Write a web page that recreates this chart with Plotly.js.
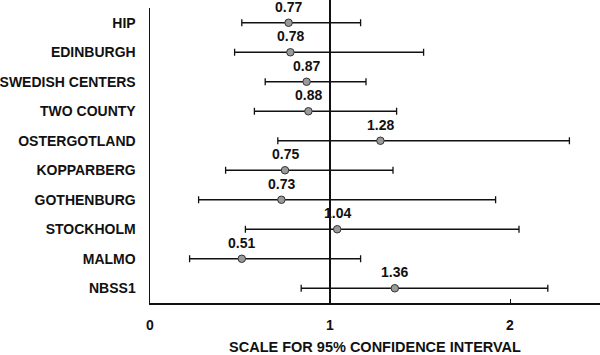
<!DOCTYPE html>
<html>
<head>
<meta charset="utf-8">
<script src="https://cdn.plot.ly/plotly-3.0.1.min.js"></script>
<style>html,body{margin:0;padding:0;background:#fff;}#chart{width:600px;height:355px;}</style>
</head>
<body>
<div id="chart"></div>
<script>
var studies = ["HIP","EDINBURGH","SWEDISH CENTERS","TWO COUNTY","OSTERGOTLAND","KOPPARBERG","GOTHENBURG","STOCKHOLM","MALMO","NBSS1"];
var estimates = [0.77, 0.78, 0.87, 0.88, 1.28, 0.75, 0.73, 1.04, 0.51, 1.36];
var lowerCI = [0.51, 0.47, 0.64, 0.58, 0.71, 0.42, 0.27, 0.53, 0.22, 0.84];
var upperCI = [1.17, 1.52, 1.20, 1.37, 2.33, 1.35, 1.92, 2.05, 1.17, 2.21];
var xTicks = [0, 1, 2];
var xTickLabels = ["0", "1", "2"];

var fontFam = "Liberation Sans, Arial, sans-serif";

var trace = {
  type: "scatter",
  mode: "markers",
  x: estimates,
  y: studies,
  marker: {size: 7.5, color: "#9a9a9a", line: {color: "#333", width: 1}},
  error_x: {
    type: "data",
    symmetric: false,
    array: upperCI.map(function(u, i){ return u - estimates[i]; }),
    arrayminus: lowerCI.map(function(l, i){ return estimates[i] - l; }),
    color: "#111",
    thickness: 1.3,
    width: 3.5
  },
  hoverinfo: "none",
  showlegend: false
};

var annotations = studies.map(function(s, i){
  return {
    x: estimates[i], y: s, xref: "x", yref: "y",
    text: estimates[i].toFixed(2),
    showarrow: false, yshift: 16,
    font: {family: fontFam, size: 14, color: "#111", weight: "bold"}
  };
});

var layout = {
  width: 600, height: 355,
  margin: {l: 150, r: 0, t: 8, b: 52},
  paper_bgcolor: "#fff", plot_bgcolor: "#fff",
  font: {family: fontFam, size: 14, color: "#111", weight: "bold"},
  xaxis: {
    range: [0, 2.5],
    tickvals: xTicks, ticktext: xTickLabels,
    ticks: "inside", ticklen: 4, tickcolor: "#111", tickwidth: 1,
    showline: true, linecolor: "#111", linewidth: 1.5,
    showgrid: false, zeroline: false,
    ticklabelstandoff: 9,
    tickfont: {family: fontFam, size: 14, color: "#111", weight: "bold"},
    title: {text: "SCALE FOR 95% CONFIDENCE INTERVAL", standoff: 12,
            font: {family: fontFam, size: 14.5, color: "#111", weight: "bold"}}
  },
  yaxis: {
    type: "category",
    categoryorder: "array", categoryarray: studies,
    range: [9.5, -0.5],
    showline: true, linecolor: "#111", linewidth: 1.5,
    showgrid: false, zeroline: false,
    ticks: "", ticklabelstandoff: 10,
    tickfont: {family: fontFam, size: 14, color: "#111", weight: "bold"}
  },
  shapes: [{
    type: "line", xref: "x", yref: "paper",
    x0: 1, x1: 1, y0: 0, y1: 1.03,
    line: {color: "#111", width: 2}
  }],
  annotations: annotations
};

Plotly.newPlot("chart", [trace], layout, {staticPlot: true, displayModeBar: false});
</script>
</body>
</html>
